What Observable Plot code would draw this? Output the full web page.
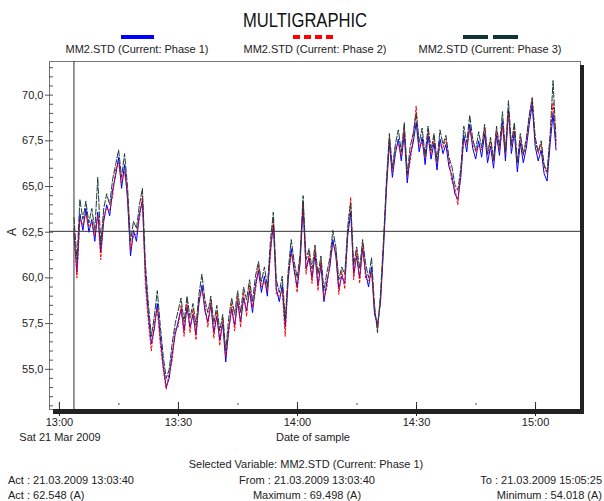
<!DOCTYPE html>
<html><head><meta charset="utf-8">
<script src="https://cdn.jsdelivr.net/npm/d3@7"></script>
<script src="https://cdn.jsdelivr.net/npm/@observablehq/plot@0.6"></script>
<style>
body{margin:0;background:#fff;font-family:"Liberation Sans",Arial,sans-serif;color:#222}
#wrap{position:relative;width:604px;height:501px;overflow:hidden;background:#fff}
.t{position:absolute;font-size:11px;white-space:nowrap;line-height:11px}
.c{transform:translateX(-50%)}
.r{transform:translateX(-100%)}
.sw{position:absolute}
</style></head><body><div id="wrap"></div>
<script>
// ---- data ----
const title = "MULTIGRAPHIC";
const seriesNames = ["MM2.STD (Current: Phase 1)", "MM2.STD (Current: Phase 2)", "MM2.STD (Current: Phase 3)"];
const sampleStart = new Date(2009, 2, 21, 13, 3, 40);
const sampleStepSeconds = 45;
const xDomain = [new Date(2009, 2, 21, 12, 57, 30), new Date(2009, 2, 21, 15, 11, 20)];
const yDomain = [52.8, 71.84];
const yTickValues = [55, 57.5, 60, 62.5, 65, 67.5, 70];
const cursorTime = new Date(2009, 2, 21, 13, 3, 40);
const cursorValue = 62.548;

const phase1 = [
62.4,60.3,63.5,62.6,63.8,62.5,63.2,62.0,63.6,61.4,
63.1,64.0,63.4,64.8,65.6,66.6,64.9,66.2,64.3,61.2,
62.6,62.0,63.5,64.2,60.2,58.0,56.4,57.2,58.6,56.8,
55.2,54.02,54.5,55.8,56.9,57.6,58.3,57.1,58.4,57.3,
58.0,56.9,58.6,59.6,58.2,57.6,58.5,57.0,57.9,56.6,
57.5,55.4,57.2,58.3,57.4,58.7,57.6,58.9,58.2,59.3,
58.1,59.6,60.4,59.2,60.1,59.0,61.5,62.9,59.4,58.7,
59.6,57.3,59.9,61.6,60.4,59.5,60.8,63.9,60.5,61.1,
60.0,61.3,59.6,60.7,58.7,59.8,60.6,62.1,61.2,59.4,
60.1,59.7,62.3,63.6,60.2,61.2,60.0,61.6,60.3,59.5,
60.6,58.0,57.5,58.6,61.5,64.8,67.4,65.5,66.8,67.6,
66.4,67.9,65.2,66.7,67.4,68.5,66.9,67.7,66.2,67.8,
66.5,67.4,65.9,67.6,66.8,67.3,66.1,65.6,64.6,64.3,
65.5,67.8,66.9,68.4,67.1,66.5,67.5,66.6,67.9,66.3,
67.2,66.0,67.8,66.7,68.6,66.4,69.2,66.8,68.0,65.8,
67.4,66.3,67.1,68.4,69.498,67.2,66.4,67.0,65.7,65.3,
67.3,69.0,67.0];

const phase2 = [
62.7,60.0,63.2,62.9,63.5,62.8,63.0,62.3,63.4,61.0,
63.4,63.8,63.7,64.5,65.9,66.3,65.2,65.8,64.6,61.5,
62.3,62.4,63.2,64.5,59.6,57.6,56.0,57.5,58.3,56.4,
55.0,53.9,54.8,55.5,57.2,57.3,58.5,56.8,58.7,57.0,
58.3,56.6,58.9,59.3,58.5,57.3,58.8,56.7,58.2,56.3,
57.8,55.7,57.0,58.6,57.1,59.0,57.3,59.2,57.9,59.6,
58.4,59.3,60.7,59.5,59.8,59.3,61.2,63.3,59.1,59.0,
59.3,56.8,60.2,61.3,60.7,59.2,61.1,64.2,60.2,61.4,
59.7,61.6,59.3,61.0,58.9,59.5,60.9,61.8,61.5,59.1,
60.4,59.4,62.6,64.4,59.9,61.5,59.7,61.9,60.0,59.8,
60.3,58.3,57.2,58.9,61.8,65.1,67.7,65.8,67.1,67.3,
66.7,68.2,65.6,66.4,67.7,69.4,67.2,67.4,66.6,68.1,
66.8,67.7,66.3,67.3,67.1,67.6,66.5,65.3,64.9,64.0,
65.9,67.5,67.3,68.1,67.4,66.9,67.2,67.0,68.2,66.7,
67.5,66.4,68.1,67.0,68.3,66.8,69.0,67.2,68.3,66.3,
67.7,66.7,67.4,68.8,69.9,67.5,66.8,67.3,66.1,65.7,
67.7,69.6,67.3];

const phase3 = [
63.3,61.0,64.3,63.2,64.2,63.0,63.8,62.6,65.5,61.8,
63.8,64.6,64.0,65.4,66.2,67.0,65.5,66.8,65.0,62.0,
63.1,62.7,64.0,64.9,60.8,58.6,56.8,57.9,59.3,57.4,
55.7,54.5,55.0,56.4,57.5,58.2,58.9,57.6,59.0,57.8,
58.6,57.4,59.1,60.2,58.8,58.1,59.0,57.5,58.5,57.1,
58.0,56.0,57.8,58.9,58.0,59.3,58.1,59.5,58.8,59.9,
58.7,60.1,60.9,59.8,60.6,59.5,62.0,63.6,59.9,59.2,
60.1,57.7,60.4,62.1,60.9,60.0,61.3,64.5,61.0,61.6,
60.5,61.8,60.2,61.2,59.3,60.3,61.1,62.6,61.7,59.9,
60.6,60.2,62.8,64.1,60.7,61.7,60.5,62.1,60.8,60.0,
61.1,58.5,57.0,59.1,62.0,65.3,67.9,66.0,67.3,68.1,
66.9,68.5,65.7,67.2,67.9,69.0,67.4,68.2,66.7,68.3,
67.0,67.9,66.4,68.1,67.3,67.8,66.6,66.1,65.1,64.8,
66.0,68.3,67.4,68.9,67.6,67.0,68.0,67.1,68.4,66.8,
67.7,66.5,68.3,67.2,69.1,66.9,69.7,67.3,68.5,66.3,
67.9,66.8,67.6,68.9,69.8,67.7,66.9,67.5,66.2,65.8,
67.8,70.8,67.5];

const footerLines = {
  selected: "Selected Variable: MM2.STD (Current: Phase 1)",
  actTime: "Act : 21.03.2009 13:03:40",
  from: "From : 21.03.2009 13:03:40",
  to: "To : 21.03.2009 15:05:25",
  actValue: "Act : 62.548 (A)",
  maximum: "Maximum : 69.498 (A)",
  minimum: "Minimum : 54.018 (A)"
};

// ---- build table ----
const timeAt = i => new Date(sampleStart.getTime() + i * sampleStepSeconds * 1000);
const rows = [];
[phase1, phase2, phase3].forEach((arr, s) => arr.forEach((v, i) => rows.push({t: timeAt(i), v, s})));
const colors = ["#0000ff", "#ff0000", "#1c3c3c"];
const dashes = [null, "2,2", "6,2"];

const wrap = document.getElementById("wrap");
const fmtY = d => d.toFixed(1).replace(".", ",");
const minorY = d3.range(53, 71.9, 0.5).filter(d => !yTickValues.includes(d));

const plot = Plot.plot({
  width: 604, height: 501,
  marginTop: 61, marginLeft: 49, marginRight: 24, marginBottom: 92,
  style: {fontFamily: "'Liberation Sans', Arial, sans-serif", fontSize: "11px", color: "#222", background: "transparent", overflow: "visible"},
  x: {type: "time", domain: xDomain},
  y: {domain: yDomain},
  marks: [
    Plot.frame({stroke: "#777"}),
    ...[0, 1, 2].map(s => Plot.line(rows.filter(r => r.s === s), {x: "t", y: "v", stroke: colors[s], strokeWidth: 1, strokeDasharray: dashes[s]})),
    Plot.ruleX([cursorTime], {stroke: "#333"}),
    Plot.ruleY([cursorValue], {stroke: "#333"}),
    Plot.axisY({ticks: yTickValues, tickFormat: fmtY, tickSize: 8, dx: 4, tickPadding: 2, label: null, stroke: "#555"}),
    Plot.axisY({ticks: minorY, tickFormat: () => "", tickSize: 4, dx: 4, label: null, stroke: "#555"}),
    Plot.axisX({ticks: d3.timeMinute.every(30), tickFormat: d3.timeFormat("%H:%M"), tickSize: 14, dy: -7, tickPadding: 2, label: null, stroke: "#222"}),
    Plot.axisX({ticks: d3.timeMinute.every(15), tickFormat: () => "", tickSize: 2, dy: -6, label: null, stroke: "#444"})
  ]
});
plot.style.position = "absolute";
plot.style.left = "0px";
plot.style.top = "0px";
wrap.appendChild(plot);

// shadow / axis bar decoration
const xr = plot.scale("x").range, yr = plot.scale("y").range;
const svg = d3.select(plot);
svg.append("rect").attr("x", xr[1]).attr("y", yr[1] + 4).attr("width", 4).attr("height", yr[0] - yr[1] + 1).attr("fill", "#222");
svg.append("rect").attr("x", xr[0] + 4).attr("y", yr[0]).attr("width", xr[1] - xr[0]).attr("height", 5).attr("fill", "#222");

function txt(s, x, y, cls, extra) {
  const d = document.createElement("div");
  d.className = "t " + (cls || "");
  d.textContent = s;
  d.style.left = x + "px";
  d.style.top = y + "px";
  if (extra) Object.assign(d.style, extra);
  wrap.appendChild(d);
  return d;
}
function sw(x, y, w, h, c) {
  const d = document.createElement("div");
  d.className = "sw";
  Object.assign(d.style, {left: x + "px", top: y + "px", width: w + "px", height: h + "px", background: c});
  wrap.appendChild(d);
}

// title
txt(title, 305, 10, "", {fontSize: "20px", lineHeight: "20px", transform: "translateX(-50%) scaleX(0.83)", color: "#111"});
// legend
const legendCenters = [137, 315, 490];
seriesNames.forEach((n, i) => txt(n, legendCenters[i], 44, "c"));
sw(121, 35, 33, 4, colors[0]);
[0, 1, 2, 3].forEach(k => sw(293 + k * 11, 35, 7, 4, colors[1]));
sw(463, 35, 25, 4, "#103434"); sw(493, 35, 25, 4, "#103434");
// y label
txt("A", 12, 232, "", {transform: "translate(-50%,-50%) rotate(-90deg)", fontSize: "12px"});
// x extras
txt("Sat 21 Mar 2009", 60, 432, "c");
txt("Date of sample", 313, 432, "c");
// footer
txt(footerLines.selected, 306, 459, "c");
txt(footerLines.actTime, 8, 475);
txt(footerLines.from, 307, 475, "c");
txt(footerLines.to, 602, 475, "r");
txt(footerLines.actValue, 8, 490);
txt(footerLines.maximum, 307, 490, "c");
txt(footerLines.minimum, 602, 490, "r");
</script></body></html>
